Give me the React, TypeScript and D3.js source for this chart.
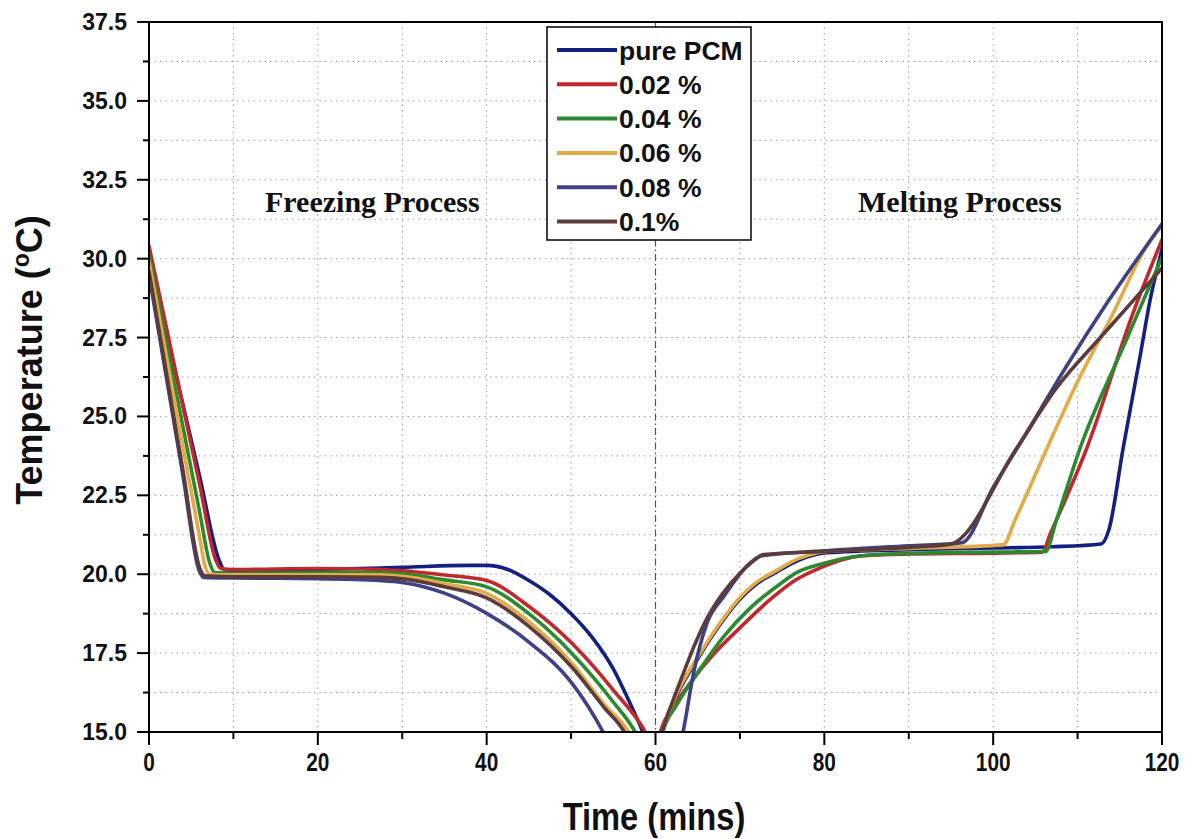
import React from 'react';
import * as d3 from 'd3';

// time (mins) vs temperature (°C)
const pureFreeze = [[0,30.0],[2,27.7],[4,25.4],[6,23.1],[8.3,20.45],[8.9,20.15],[10,20.12],[20,20.15],[30,20.22],[38,20.28],[40,20.28],[42.5,20.15],[45,19.8],[47.5,19.35],[50,18.75],[52.5,18.0],[55,17.0],[57,15.9],[58.5,15.0],[58.8,14.8]];
const pureMelt = [[60.6,14.8],[60.9,15.1],[62.5,16.15],[65.3,17.45],[67.5,18.35],[69.8,19.15],[72,19.7],[73.9,20.0],[77,20.45],[80.3,20.68],[90,20.78],[100,20.83],[107,20.87],[112.8,20.96],[113.7,21.4],[115.4,24.0],[117.4,26.9],[118.6,28.7],[120,30.3]];

const p002Freeze = [[0,30.4],[2,27.9],[4,25.35],[6,22.85],[7.9,20.45],[8.5,20.18],[10,20.15],[20,20.18],[27.4,20.15],[31.3,20.08],[35.3,19.97],[40,19.8],[45.1,18.96],[50.1,17.81],[55,16.33],[58.8,15.0],[59.2,14.8]];
const p002Melt = [[60.4,14.8],[60.7,15.1],[62,15.75],[64.1,16.55],[67,17.5],[70,18.3],[73.6,19.2],[76.5,19.8],[79.5,20.2],[82,20.45],[84.2,20.58],[90,20.64],[100,20.67],[105.8,20.7],[106.8,21.3],[111.1,24.0],[116.6,28.3],[120,30.6]];

const p004Freeze = [[0,30.1],[2,27.4],[4,24.7],[6,21.97],[7.2,20.35],[7.8,20.05],[10,20.03],[20,20.05],[27.4,20.05],[31,19.98],[35,19.82],[40,19.6],[45,18.75],[50.1,17.49],[55,15.95],[57.6,15.0],[58,14.8]];
const p004Melt = [[60.7,14.8],[61,15.1],[62.5,15.85],[65.3,17.0],[68,18.0],[71.3,18.95],[74.8,19.7],[76.7,20.05],[80,20.35],[84.2,20.58],[90,20.66],[100,20.7],[106.2,20.72],[107.5,21.72],[110.3,24.0],[115.9,27.5],[120,30.05]];

const p006Freeze = [[0,29.9],[2,26.99],[4,24.08],[6,21.17],[6.6,20.3],[7.2,20.0],[10,19.98],[20,19.98],[27.4,19.98],[31,19.9],[35,19.7],[40,19.39],[45,18.5],[50.1,17.18],[54,15.85],[56.8,15.0],[57.2,14.8]];
const p006Melt = [[60.6,14.8],[60.9,15.1],[62.5,16.2],[65.3,17.5],[67.5,18.4],[69.8,19.2],[72,19.75],[73.9,20.05],[77,20.5],[80.3,20.72],[90,20.82],[101.2,20.93],[102.6,21.72],[106.4,24.0],[110,26.1],[113.9,28.1],[118.2,30.4],[120,31.05]];

const p008Freeze = [[0,29.5],[2,26.33],[4,23.16],[5.9,20.15],[6.5,19.9],[10,19.88],[20,19.86],[27.4,19.8],[30,19.74],[35,19.4],[40,18.76],[45,17.85],[50.1,16.55],[53.8,15.0],[54.2,14.8]];
const p008Melt = [[63.1,14.8],[63.3,15.05],[64.5,16.86],[66.1,18.45],[68.1,19.3],[70.8,20.25],[72.5,20.58],[80,20.74],[90,20.9],[96.3,21.0],[100,22.75],[104,24.5],[108.7,26.6],[113.5,28.6],[120,31.1]];

const p01Freeze = [[0,29.6],[2,26.47],[4,23.33],[6.0,20.2],[6.6,19.95],[10,19.92],[20,19.92],[27.4,19.9],[31,19.82],[35,19.6],[40,19.25],[45,18.35],[50.1,17.05],[54,15.75],[56.3,15.0],[56.7,14.8]];
const p01Melt = [[60.6,14.8],[60.9,15.1],[62,15.95],[63.3,16.86],[64.7,17.8],[66.1,18.6],[68,19.4],[70,20.03],[71.5,20.4],[72.8,20.62],[80,20.72],[90,20.85],[94.9,20.95],[102.8,24.0],[107.5,25.9],[112.7,27.5],[120,29.7]];

const seriesNames = ['pure PCM', '0.02 %', '0.04 %', '0.06 %', '0.08 %', '0.1%'];
const seriesColors = ['#13207f', '#c0282e', '#2b8a30', '#e2ab48', '#3e4284', '#5c3b3a'];
const seriesData = [
  [pureFreeze, pureMelt],
  [p002Freeze, p002Melt],
  [p004Freeze, p004Melt],
  [p006Freeze, p006Melt],
  [p008Freeze, p008Melt],
  [p01Freeze, p01Melt],
];

const xTicks = [0, 20, 40, 60, 80, 100, 120];
const xMinor = [10, 30, 50, 70, 90, 110];
const yTicks = [15, 17.5, 20, 22.5, 25, 27.5, 30, 32.5, 35, 37.5];
const yMinor = [16.25, 18.75, 21.25, 23.75, 26.25, 28.75, 31.25, 33.75, 36.25];

const width = 1202;
const height = 839;
const left = 149, right = 1162, top = 22, bottom = 732;

const sans = 'Liberation Sans, Arial, Helvetica, sans-serif';
const serif = 'Liberation Serif, Times New Roman, serif';

const App = () => {
  const x = d3.scaleLinear().domain([0, 120]).range([left, right]);
  const y = d3.scaleLinear().domain([15, 37.5]).range([bottom, top]);

  const line = d3.line<number[]>()
    .x(d => x(d[0]))
    .y(d => y(d[1]))
    .curve(d3.curveMonotoneX);

  const gridX = xTicks.concat(xMinor).filter(v => v > 0 && v < 120 && v !== 60);
  const gridY = yTicks.concat(yMinor).filter(v => v > 15 && v < 37.5);

  const legX = 547, legY = 27, legW = 204, legH = 213;

  return (
    <svg width={width} height={height} style={{ position: 'absolute', left: 0, top: 0, background: '#fff' }}>
      <defs>
        <clipPath id="plotClip">
          <rect x={left} y={top} width={right - left} height={bottom - top} />
        </clipPath>
      </defs>
      <rect x={0} y={0} width={width} height={height} fill="#fff" />

      {/* grid */}
      <g stroke="#a0a0a0" strokeWidth={1} strokeDasharray="1.5,4">
        {gridX.map(v => <line key={'gx' + v} x1={x(v)} x2={x(v)} y1={top} y2={bottom} />)}
        {gridY.map(v => <line key={'gy' + v} x1={left} x2={right} y1={y(v)} y2={y(v)} />)}
      </g>
      <line x1={x(60)} x2={x(60)} y1={top} y2={bottom} stroke="#555" strokeWidth={1.2} strokeDasharray="7,3,1.5,3" />

      {/* curves */}
      <g clipPath="url(#plotClip)" fill="none" strokeWidth={3.6} strokeLinejoin="round" strokeLinecap="round">
        {seriesData.map((parts, i) =>
          parts.map((pts, j) => (
            <path key={i + '-' + j} d={line(pts) || ''} stroke={seriesColors[i]} />
          ))
        )}
      </g>

      {/* frame */}
      <rect x={left} y={top} width={right - left} height={bottom - top} fill="none" stroke="#000" strokeWidth={2} />

      {/* ticks */}
      <g stroke="#000" strokeWidth={2}>
        {yTicks.map(v => <line key={'yt' + v} x1={left - 12} x2={left} y1={y(v)} y2={y(v)} />)}
        {yMinor.map(v => <line key={'ym' + v} x1={left - 6} x2={left} y1={y(v)} y2={y(v)} />)}
        {xTicks.map(v => <line key={'xt' + v} x1={x(v)} x2={x(v)} y1={bottom} y2={bottom + 13} />)}
        {xMinor.map(v => <line key={'xm' + v} x1={x(v)} x2={x(v)} y1={bottom} y2={bottom + 7} />)}
      </g>
      <g fontFamily={sans} fontWeight="bold" fontSize={23} fill="#111">
        {yTicks.map(v => (
          <text key={'yl' + v} x={127} y={y(v) + 8} textAnchor="end">{v.toFixed(1)}</text>
        ))}
      </g>
      <g fontFamily={sans} fontWeight="bold" fontSize={26} fill="#111">
        {xTicks.map(v => (
          <text key={'xl' + v} transform={`translate(${x(v)},771) scale(0.8,1)`} textAnchor="middle">{v}</text>
        ))}
      </g>

      {/* axis titles */}
      <text transform={`translate(${654},830) scale(0.86,1)`} textAnchor="middle" fontFamily={sans} fontWeight="bold" fontSize={38} fill="#111">Time (mins)</text>
      <text transform={`translate(${42},360) rotate(-90)`} textAnchor="middle" fontFamily={sans} fontWeight="bold" fontSize={36} fill="#111">
        Temperature (<tspan fontSize={23} dy={-13}>o</tspan><tspan dy={13}>C)</tspan>
      </text>

      {/* annotations */}
      <text x={265} y={212} fontFamily={serif} fontWeight="bold" fontSize={30} fill="#111">Freezing Process</text>
      <text x={858} y={212} fontFamily={serif} fontWeight="bold" fontSize={30} fill="#111">Melting Process</text>

      {/* legend */}
      <rect x={legX} y={legY} width={legW} height={legH} fill="#fff" stroke="#000" strokeWidth={1.5} />
      {seriesNames.map((name, i) => {
        const cy = 50 + i * 34.3;
        return (
          <g key={name}>
            <line x1={557} x2={617} y1={cy} y2={cy} stroke={seriesColors[i]} strokeWidth={4} />
            <text x={619} y={cy + 9.5} fontFamily={sans} fontWeight="bold" fontSize={26.5} fill="#111">{name}</text>
          </g>
        );
      })}
    </svg>
  );
};

export default App;
